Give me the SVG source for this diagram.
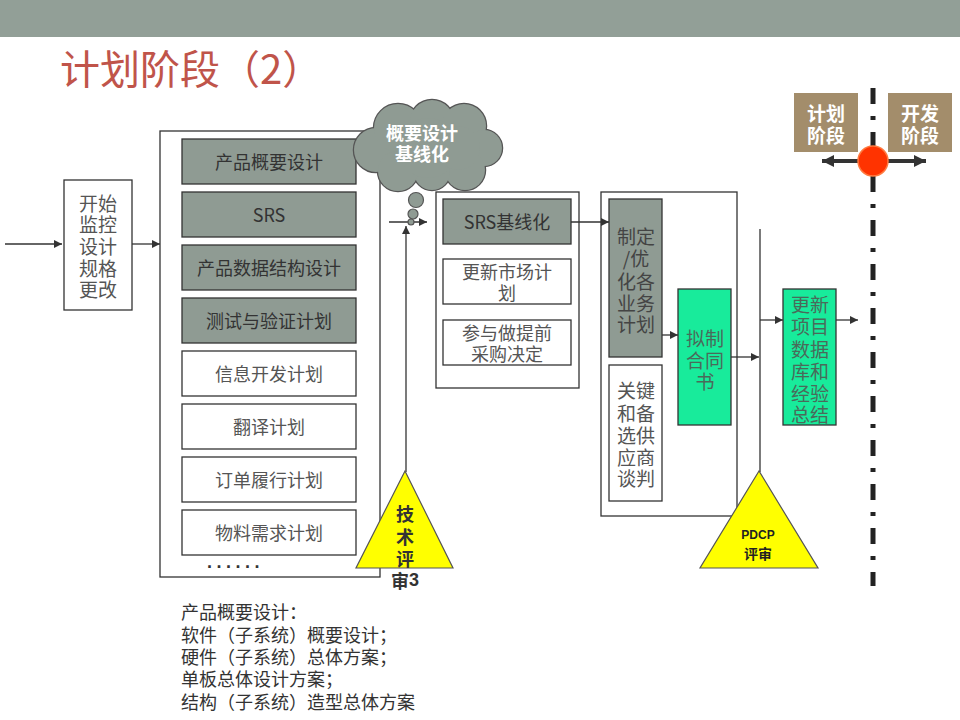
<svg xmlns="http://www.w3.org/2000/svg" width="960" height="720" viewBox="0 0 960 720">
<defs>
<marker id="ah" viewBox="0 0 10 10" refX="10" refY="5" markerWidth="8" markerHeight="8" markerUnits="userSpaceOnUse" orient="auto">
<path d="M0,0 L10,5 L0,10 z" fill="#333"/>
</marker>
<marker id="ahb" viewBox="0 0 10 10" refX="10" refY="5" markerWidth="12" markerHeight="12" markerUnits="userSpaceOnUse" orient="auto">
<path d="M0,0 L10,5 L0,10 z" fill="#333"/>
</marker>
<g id="cloudShapes">
<circle cx="376" cy="150" r="22"/>
<circle cx="398" cy="128" r="24"/>
<circle cx="432" cy="122" r="22"/>
<circle cx="464" cy="126" r="22"/>
<circle cx="484" cy="148" r="18"/>
<circle cx="465" cy="170" r="20"/>
<circle cx="432" cy="172" r="18"/>
<circle cx="398" cy="171" r="20"/>
<circle cx="428" cy="148" r="30"/>
<circle cx="458" cy="148" r="22"/>
</g>
</defs>
<style>
.cn{font-family:"Noto Sans CJK SC","Noto Sans",sans-serif;}
.box{stroke:#333;stroke-width:1.3;}
.gray{fill:#8f9b93;}
.white{fill:#fff;}
.green{fill:#18eb9b;}
.frame{fill:none;stroke:#333;stroke-width:1.3;}
.t{font-size:18px;fill:#555;text-anchor:middle;dominant-baseline:central;}
.tg{font-size:18px;fill:#333;text-anchor:middle;dominant-baseline:central;}
.v{font-size:19px;text-anchor:middle;dominant-baseline:central;}
.line{stroke:#333;stroke-width:1.3;fill:none;}
.tri{fill:#ffff00;stroke:#555;stroke-width:1.2;}
.stage{fill:#a38d6b;}
.st{font-size:19px;font-weight:bold;fill:#fff;text-anchor:middle;dominant-baseline:central;}
</style>
<rect width="960" height="720" fill="#fff"/>
<rect x="0" y="0" width="960" height="37" fill="#929f97"/>
<text x="60" y="84" class="cn" font-size="40" fill="#c0544a">计划阶段（2）</text>

<!-- containers -->
<rect x="160" y="131" width="220" height="446" class="frame"/>
<rect x="436" y="192" width="143" height="196" class="frame"/>
<rect x="601" y="192" width="136" height="324" class="frame"/>

<g id="connectors">
<line x1="5" y1="244" x2="62" y2="244" class="line" marker-end="url(#ah)"/>
<line x1="132" y1="244" x2="160" y2="244" class="line" marker-end="url(#ah)"/>
<line x1="389" y1="222" x2="427" y2="222" class="line" marker-end="url(#ah)"/>
<line x1="406" y1="472" x2="406" y2="226" class="line" marker-end="url(#ah)"/>
<line x1="571" y1="222" x2="609" y2="222" class="line" marker-end="url(#ah)"/>
<line x1="662" y1="335" x2="678" y2="335" class="line" marker-end="url(#ah)"/>
<line x1="731" y1="357" x2="759" y2="357" class="line" marker-end="url(#ah)"/>
<line x1="760" y1="229" x2="760" y2="472" class="line"/>
<line x1="760" y1="320" x2="783" y2="320" class="line" marker-end="url(#ah)"/>
<line x1="836" y1="320" x2="858" y2="320" class="line" marker-end="url(#ah)"/>
</g>

<g id="n-start">
<rect x="64" y="180" width="68" height="130" class="box white"/>
<text class="cn v" fill="#555"><tspan x="98" y="202">开始</tspan><tspan x="98" y="223">监控</tspan><tspan x="98" y="245">设计</tspan><tspan x="98" y="267">规格</tspan><tspan x="98" y="288">更改</tspan></text>
</g>

<g id="n-gaiyao"><rect x="182" y="139" width="174" height="45" class="box gray"/><text x="269" y="161" class="cn tg">产品概要设计</text></g>
<g id="n-srs"><rect x="182" y="192" width="174" height="45" class="box gray"/><text x="269" y="214" class="cn tg">SRS</text></g>
<g id="n-data"><rect x="182" y="245" width="174" height="45" class="box gray"/><text x="269" y="267" class="cn tg">产品数据结构设计</text></g>
<g id="n-test"><rect x="182" y="298" width="174" height="45" class="box gray"/><text x="269" y="320" class="cn tg">测试与验证计划</text></g>
<g id="n-info"><rect x="182" y="351" width="174" height="45" class="box white"/><text x="269" y="373" class="cn t">信息开发计划</text></g>
<g id="n-trans"><rect x="182" y="404" width="174" height="45" class="box white"/><text x="269" y="426" class="cn t">翻译计划</text></g>
<g id="n-order"><rect x="182" y="457" width="174" height="45" class="box white"/><text x="269" y="479" class="cn t">订单履行计划</text></g>
<g id="n-mat"><rect x="182" y="510" width="174" height="45" class="box white"/><text x="269" y="532" class="cn t">物料需求计划</text></g>
<text x="207" y="568" font-family="Liberation Sans, sans-serif" font-size="18" font-weight="bold" fill="#333" letter-spacing="4.5">......</text>

<g id="n-cloud">
<use href="#cloudShapes" fill="#8f9b93" stroke="#555" stroke-width="2.5"/>
<use href="#cloudShapes" fill="#8f9b93"/>
<text class="cn" font-size="18" font-weight="bold" fill="#fff" text-anchor="middle" dominant-baseline="central"><tspan x="422" y="132">概要设计</tspan><tspan x="422" y="153">基线化</tspan></text>
<circle cx="416" cy="200" r="7.5" fill="#8f9b93" stroke="#555" stroke-width="1.2"/>
<circle cx="413" cy="214" r="5" fill="#8f9b93" stroke="#555" stroke-width="1.2"/>
<circle cx="411" cy="222" r="3" fill="#8f9b93" stroke="#555" stroke-width="1.2"/>
</g>

<g id="n-tech">
<polygon points="405,471 356,568 453,568" class="tri"/>
<text class="cn" font-size="18" font-weight="bold" fill="#333" text-anchor="middle" dominant-baseline="central"><tspan x="405" y="513">技</tspan><tspan x="405" y="536">术</tspan><tspan x="405" y="558">评</tspan><tspan x="405" y="580">审<tspan font-family="Liberation Sans, sans-serif">3</tspan></tspan></text>
</g>

<g id="n-srsbase"><rect x="443" y="199" width="128" height="45" class="box gray"/><text x="507" y="221" class="cn tg">SRS基线化</text></g>
<g id="n-market"><rect x="443" y="259" width="128" height="45" class="box white"/><text class="cn t"><tspan x="507" y="271">更新市场计</tspan><tspan x="507" y="292">划</tspan></text></g>
<g id="n-purchase"><rect x="443" y="320" width="128" height="45" class="box white"/><text class="cn t"><tspan x="507" y="332">参与做提前</tspan><tspan x="507" y="353">采购决定</tspan></text></g>

<g id="n-plan">
<rect x="609" y="199" width="53" height="158" class="box gray"/>
<text class="cn v" fill="#444"><tspan x="636" y="235">制定</tspan><tspan x="636" y="257">/优</tspan><tspan x="636" y="280">化各</tspan><tspan x="636" y="302">业务</tspan><tspan x="636" y="323">计划</tspan></text>
</g>
<g id="n-supplier">
<rect x="609" y="365" width="53" height="136" class="box white"/>
<text class="cn v" fill="#555"><tspan x="636" y="389">关键</tspan><tspan x="636" y="412">和备</tspan><tspan x="636" y="434">选供</tspan><tspan x="636" y="456">应商</tspan><tspan x="636" y="477">谈判</tspan></text>
</g>
<g id="n-contract">
<rect x="678" y="289" width="53" height="136" class="box green"/>
<text class="cn v" fill="#4a6a5a"><tspan x="705" y="337">拟制</tspan><tspan x="705" y="359">合同</tspan><tspan x="705" y="380">书</tspan></text>
</g>

<g id="n-pdcp">
<polygon points="759,471 700,568 818,568" class="tri"/>
<text x="758" y="535" font-family="Liberation Sans, sans-serif" font-size="12" font-weight="bold" fill="#222" text-anchor="middle" dominant-baseline="central">PDCP</text>
<text x="758" y="553" class="cn" font-size="14" font-weight="bold" fill="#222" text-anchor="middle" dominant-baseline="central">评审</text>
</g>

<g id="n-update">
<rect x="783" y="289" width="53" height="136" class="box green"/>
<text class="cn v" fill="#4a6a5a"><tspan x="810" y="303">更新</tspan><tspan x="810" y="325">项目</tspan><tspan x="810" y="348">数据</tspan><tspan x="810" y="370">库和</tspan><tspan x="810" y="392">经验</tspan><tspan x="810" y="413">总结</tspan></text>
</g>

<g id="milestone">
<line x1="873" y1="88" x2="873" y2="586" stroke="#222" stroke-width="5" stroke-dasharray="16 12 4 12"/>
<line x1="860" y1="161" x2="822" y2="161" stroke="#333" stroke-width="4" marker-end="url(#ahb)"/>
<line x1="886" y1="161" x2="926" y2="161" stroke="#333" stroke-width="4" marker-end="url(#ahb)"/>
<circle cx="873" cy="161" r="15" fill="#ff3300" stroke="#ff7a40" stroke-width="1.5"/>
</g>
<g id="n-stage-plan">
<rect x="794" y="93" width="64" height="59" class="stage"/>
<text class="cn st"><tspan x="826" y="112">计划</tspan><tspan x="826" y="134">阶段</tspan></text>
</g>
<g id="n-stage-dev">
<rect x="888" y="93" width="64" height="59" class="stage"/>
<text class="cn st"><tspan x="920" y="112">开发</tspan><tspan x="920" y="134">阶段</tspan></text>
</g>

<text class="cn" font-size="18" fill="#333"><tspan x="181" y="619">产品概要设计：</tspan><tspan x="181" y="642">软件（子系统）概要设计；</tspan><tspan x="181" y="664">硬件（子系统）总体方案；</tspan><tspan x="181" y="686">单板总体设计方案；</tspan><tspan x="181" y="709">结构（子系统）造型总体方案</tspan></text>
</svg>
